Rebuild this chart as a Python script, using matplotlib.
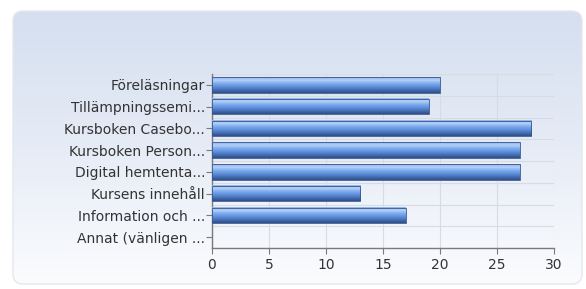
import numpy as np
import matplotlib.pyplot as plt
from matplotlib.patches import FancyBboxPatch
from matplotlib.colors import LinearSegmentedColormap

categories = [
    "Föreläsningar",
    "Tillämpningssemi...",
    "Kursboken Casebo...",
    "Kursboken Person...",
    "Digital hemtenta...",
    "Kursens innehåll",
    "Information och ...",
    "Annat (vänligen ...",
]
counts = [20, 19, 28, 27, 27, 13, 17, 0]
xticks = [0, 5, 10, 15, 20, 25, 30]

W, H = 586, 289
fig = plt.figure(figsize=(W / 100, H / 100), dpi=100)
fig.patch.set_facecolor("white")

# rounded gradient panel behind the chart
bg = fig.add_axes([0, 0, 1, 1])
bg.set_xlim(0, W)
bg.set_ylim(H, 0)
bg.axis("off")
panel = FancyBboxPatch((13, 11), 569, 273, boxstyle="round,pad=0,rounding_size=10",
                       transform=bg.transData, facecolor="none",
                       edgecolor="#e4e8ee", linewidth=1.0)
bg.add_patch(panel)
grad = np.linspace(0, 1, 256).reshape(-1, 1)
bg_cmap = LinearSegmentedColormap.from_list("bg", ["#d5dff0", "#e6ecf6", "#fbfcfe"])
im = bg.imshow(grad, cmap=bg_cmap, extent=[13, 582, 284, 11], aspect="auto", zorder=0)
im.set_clip_path(panel)

# plot area
x0, x1 = 212, 554
y0, y1 = 74, 248
ax = fig.add_axes([x0 / W, 1 - y1 / H, (x1 - x0) / W, (y1 - y0) / H])
ax.patch.set_alpha(0)
n = len(categories)

bar_cmap = LinearSegmentedColormap.from_list(
    "bar", ["#8db4ee", "#b4d0f7", "#7eaaee", "#5f91dc", "#456fb4", "#2f4f86"])
bar_h = 0.72
for i, v in enumerate(counts):
    if v <= 0:
        continue
    top = i + 0.5 - bar_h / 2
    bot = i + 0.5 + bar_h / 2
    ax.imshow(np.linspace(0, 1, 64).reshape(-1, 1), cmap=bar_cmap,
              extent=[0, v, bot, top], aspect="auto", zorder=3)
    ax.add_patch(plt.Rectangle((0, top), v, bar_h, facecolor="none",
                               edgecolor="#35568e", linewidth=0.6, zorder=4))
ax.set_xlim(0, 30)
ax.set_ylim(n, 0)

ax.set_yticks(np.arange(n) + 0.5)
ax.set_yticklabels(categories)
ax.set_yticks(np.arange(n + 1), minor=True)
ax.set_xticks(xticks)
ax.grid(True, which="minor", axis="y", color="#d8dce2", linewidth=0.8)
ax.grid(True, which="major", axis="x", color="#d8dce2", linewidth=0.8)
ax.set_axisbelow(True)

for side in ("top", "right"):
    ax.spines[side].set_visible(False)
for side in ("left", "bottom"):
    ax.spines[side].set_color("#7a7a7a")
    ax.spines[side].set_linewidth(1.0)
ax.tick_params(axis="y", which="major", length=4, color="#7a7a7a", pad=1,
               labelsize=10, labelcolor="#333333")
ax.tick_params(axis="y", which="minor", length=0)
ax.tick_params(axis="x", length=4, color="#7a7a7a", pad=3, labelsize=10,
               labelcolor="#333333")

fig.savefig("out.png", dpi=100)
